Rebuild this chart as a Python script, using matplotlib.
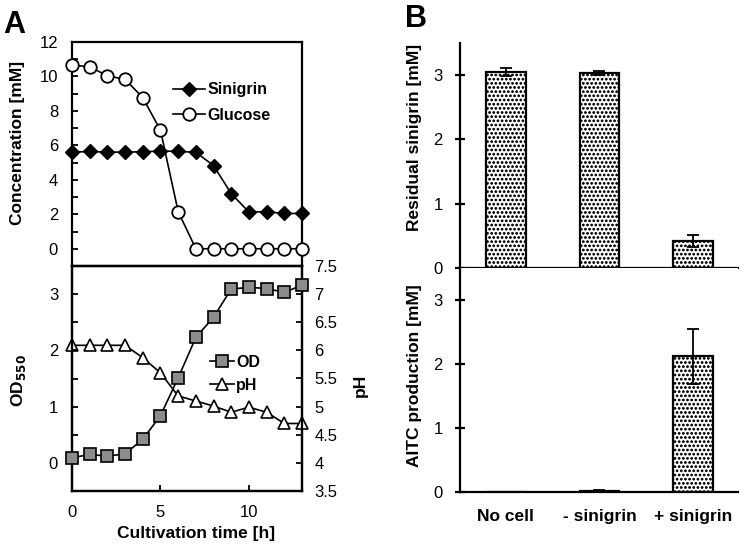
import matplotlib
matplotlib.use('Agg')
import matplotlib.pyplot as plt
import matplotlib.hatch

plt.rcParams['font.family'] = ['Liberation Sans', 'DejaVu Sans']
plt.rcParams['font.size'] = 12
plt.rcParams['axes.linewidth'] = 1.6
plt.rcParams['hatch.linewidth'] = 0.5
# bigger dots for the '.' hatch
matplotlib.hatch.SmallFilledCircles.size = 0.24

# --- panel A data ---
time_h = [0, 1, 2, 3, 4, 5, 6, 7, 8, 9, 10, 11, 12, 13]
sinigrin = [5.6, 5.65, 5.6, 5.62, 5.62, 5.68, 5.65, 5.6, 4.83, 3.2, 2.13, 2.15, 2.05, 2.05]
glucose = [10.65, 10.57, 10.03, 9.84, 8.77, 6.88, 2.16, 0.0, 0.0, 0.0, 0.0, 0.0, 0.0, 0.0]
od550 = [0.09, 0.15, 0.12, 0.16, 0.42, 0.84, 1.51, 2.23, 2.59, 3.09, 3.12, 3.1, 3.03, 3.16]
ph = [6.09, 6.09, 6.09, 6.09, 5.87, 5.6, 5.19, 5.1, 5.01, 4.9, 4.99, 4.9, 4.7, 4.7]

# --- panel B data ---
conditions = ['No cell', '- sinigrin', '+ sinigrin']
residual = [3.05, 3.03, 0.42]
residual_err = [0.06, 0.03, 0.1]
aitc = [0.0, 0.02, 2.12]
aitc_err = [0.0, 0.01, 0.43]

fig = plt.figure(figsize=(7.51, 5.52), dpi=100)
W, H = 751, 552

def box(l, t, r, b):
    return [l / W, 1 - b / H, (r - l) / W, (b - t) / H]

axA1 = fig.add_axes(box(72, 42, 302, 266))
axA2 = fig.add_axes(box(72, 266, 302, 491))
axA3 = axA2.twinx()
axB1 = fig.add_axes(box(460, 43, 738, 268))
axB2 = fig.add_axes(box(460, 268, 738, 492))

lw = 1.2
lab = dict(fontweight='bold', fontsize=12.5)
leg_kw = dict(loc='center left', frameon=False, handletextpad=0.15,
              borderpad=0, borderaxespad=0, prop={'weight': 'bold', 'size': 11.5})

# concentrations
axA1.plot(time_h, sinigrin, '-D', color='black', lw=lw, ms=7, mfc='black',
          label='Sinigrin', zorder=3, clip_on=False)
axA1.plot(time_h, glucose, '-o', color='black', lw=lw, ms=9, mfc='white',
          mew=1.3, label='Glucose', zorder=3, clip_on=False)
axA1.set_xlim(0, 13)
axA1.set_ylim(-1, 12)
axA1.set_yticks(range(0, 13, 2))
axA1.set_yticks(range(-1, 13), minor=True)
axA1.set_xticks([])
axA1.tick_params(axis='y', which='both', direction='in', length=4, width=1.3, pad=10)
axA1.set_ylabel('Concentration [mM]', **lab)
axA1.yaxis.set_label_coords(-0.205, 0.55)
axA1.legend(bbox_to_anchor=(0.44, 0.73), handlelength=2.0, labelspacing=0.65, **leg_kw)

# OD and pH
axA3.plot(time_h, ph, '-^', color='black', lw=lw, ms=9, mfc='white', mew=1.2,
          label='pH', zorder=3, clip_on=False)
axA2.plot(time_h, od550, '-s', color='black', lw=lw, ms=8, mfc='#8c8c8c',
          mew=1.2, label='OD', zorder=3, clip_on=False)
axA2.set_zorder(axA3.get_zorder() + 1)
axA2.patch.set_visible(False)
axA2.set_xlim(0, 13)
axA2.set_ylim(-0.5, 3.5)
axA3.set_ylim(3.5, 7.5)
axA2.set_yticks([0, 1, 2, 3])
axA2.set_yticks([-0.5, 0, 0.5, 1, 1.5, 2, 2.5, 3, 3.5], minor=True)
axA3.set_yticks([3.5, 4, 4.5, 5, 5.5, 6, 6.5, 7, 7.5])
axA3.set_yticklabels(['3.5', '4', '4.5', '5', '5.5', '6', '6.5', '7', '7.5'])
axA2.set_xticks([0, 5, 10])
axA2.tick_params(axis='both', which='both', direction='in', length=4, width=1.3, pad=10)
axA3.tick_params(axis='y', direction='in', length=4, width=1.3, pad=9)
axA2.set_ylabel('OD$_{\\mathbf{550}}$', **lab)
axA2.yaxis.set_label_coords(-0.19, 0.49)
axA3.set_ylabel('pH', **lab)
axA3.yaxis.set_label_coords(1.22, 0.47)
axA2.set_xlabel('Cultivation time [h]', **lab)
axA2.xaxis.set_label_coords(0.54, -0.155)
h1, l1 = axA2.get_legend_handles_labels()
h2, l2 = axA3.get_legend_handles_labels()
axA2.legend(h1 + h2, l1 + l2, bbox_to_anchor=(0.6, 0.52), handlelength=1.5,
            labelspacing=0.5, **leg_kw)

# panel B bars
xpos = range(len(conditions))
bar_kw = dict(width=0.42, color='white', edgecolor='black', linewidth=1.6,
              hatch='....', zorder=2)
err_kw = dict(elinewidth=1.3, capthick=1.3)
axB1.bar(xpos, residual, yerr=residual_err, capsize=4, error_kw=err_kw, **bar_kw)
axB2.bar(xpos, aitc, yerr=aitc_err, capsize=4, error_kw=err_kw, **bar_kw)
for ax in (axB1, axB2):
    ax.set_xlim(-0.49, 2.48)
    ax.set_ylim(0, 3.5)
    ax.set_yticks([0, 1, 2, 3])
    ax.spines['top'].set_visible(False)
    ax.spines['right'].set_visible(False)
    ax.tick_params(axis='y', direction='inout', length=7, width=1.6, pad=9)
    ax.tick_params(axis='x', length=0)
axB1.set_xticks([])
axB2.set_xticks(list(xpos))
axB2.set_xticklabels(conditions, **lab)
axB2.tick_params(axis='x', pad=12)
axB1.set_ylabel('Residual sinigrin [mM]', **lab)
axB1.yaxis.set_label_coords(-0.137, 0.58)
axB2.set_ylabel('AITC production [mM]', **lab)
axB2.yaxis.set_label_coords(-0.137, 0.52)

fig.text(3 / W, 1 - 33 / H, 'A', fontsize=22, fontweight='bold', va='baseline')
fig.text(405 / W, 1 - 27 / H, 'B', fontsize=22, fontweight='bold', va='baseline')

fig.savefig('out.png', dpi=100)
